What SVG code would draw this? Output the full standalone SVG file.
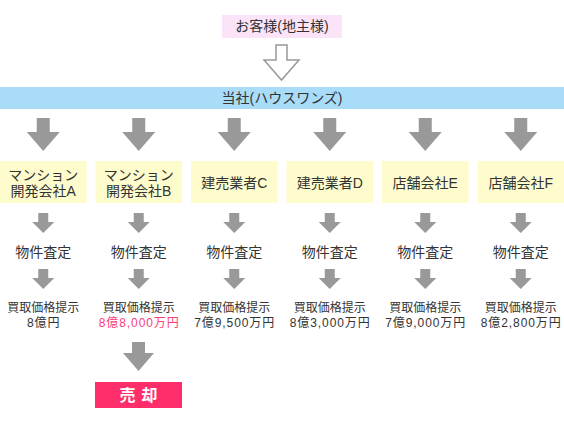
<svg xmlns="http://www.w3.org/2000/svg" width="564" height="423" viewBox="0 0 564 423">
<style>
.t{font-family:"Liberation Sans","Noto Sans CJK JP",sans-serif;fill:#333;text-anchor:middle}
.b{font-size:14px}
.s{font-size:12px}
.p{letter-spacing:0.9px}
.ar{fill:#999}
.box{fill:#fefccc}
</style>
<defs>
<path id="big" d="M-6.5,0 H6.5 V14 H16.5 L0,33 L-16.5,14 H-6.5 Z"/>
<path id="sm" d="M-5,0 H5 V9 H11 L0,20 L-11,9 H-5 Z"/>
</defs>
<rect width="564" height="423" fill="#fff"/>
<g id="customer">
<rect x="222" y="15" width="120" height="23" fill="#fce4f8"/>
<text class="t b" x="282" y="31">お客様(地主様)</text>
</g>
<g id="company">
<rect x="0" y="87" width="564" height="22" fill="#a8dcf9"/>
<text class="t b" x="282" y="103">当社(ハウスワンズ)</text>
</g>
<g id="nodeA">
<rect class="box" x="0" y="161" width="86.5" height="42"/>
<text class="t b" x="43.25" y="180">マンション</text>
<text class="t b" x="43.25" y="196">開発会社A</text>
</g>
<g id="nodeB">
<rect class="box" x="95.5" y="161" width="86.5" height="42"/>
<text class="t b" x="138.75" y="180">マンション</text>
<text class="t b" x="138.75" y="196">開発会社B</text>
</g>
<g id="nodeC">
<rect class="box" x="191" y="161" width="86.5" height="42"/>
<text class="t b" x="234.25" y="188">建売業者C</text>
</g>
<g id="nodeD">
<rect class="box" x="286.5" y="161" width="86.5" height="42"/>
<text class="t b" x="329.75" y="188">建売業者D</text>
</g>
<g id="nodeE">
<rect class="box" x="382" y="161" width="86.5" height="42"/>
<text class="t b" x="425.25" y="188">店舗会社E</text>
</g>
<g id="nodeF">
<rect class="box" x="477.5" y="161" width="86.5" height="42"/>
<text class="t b" x="520.75" y="188">店舗会社F</text>
</g>
<g id="appraisals">
<text class="t b" x="43.25" y="257">物件査定</text>
<text class="t b" x="138.75" y="257">物件査定</text>
<text class="t b" x="234.25" y="257">物件査定</text>
<text class="t b" x="329.75" y="257">物件査定</text>
<text class="t b" x="425.25" y="257">物件査定</text>
<text class="t b" x="520.75" y="257">物件査定</text>
</g>
<g id="offers">
<text class="t s" x="43.25" y="312">買取価格提示</text>
<text class="t s p" x="43.7" y="327">8億円</text>
<text class="t s" x="138.75" y="312">買取価格提示</text>
<text class="t s p" x="139.2" y="327" style="fill:#ff3d78">8億8,000万円</text>
<text class="t s" x="234.25" y="312">買取価格提示</text>
<text class="t s p" x="234.7" y="327">7億9,500万円</text>
<text class="t s" x="329.75" y="312">買取価格提示</text>
<text class="t s p" x="330.2" y="327">8億3,000万円</text>
<text class="t s" x="425.25" y="312">買取価格提示</text>
<text class="t s p" x="425.7" y="327">7億9,000万円</text>
<text class="t s" x="520.75" y="312">買取価格提示</text>
<text class="t s p" x="521.2" y="327">8億2,800万円</text>
</g>
<g id="sale">
<rect x="95" y="382" width="87" height="26" fill="#ff2d6a"/>
<text x="141.5" y="401" style="font-family:'Noto Sans CJK JP',sans-serif;font-size:16px;font-weight:bold;fill:#fff;text-anchor:middle;letter-spacing:6px">売却</text>
</g>
<g id="connectors">
<path d="M276,45 H287 V60 H299 L281.5,80 L264,60 H276 Z" fill="#fff" stroke="#999" stroke-width="1.5"/>
<use href="#big" class="ar" x="43.25" y="118"/>
<use href="#big" class="ar" x="138.75" y="118"/>
<use href="#big" class="ar" x="234.25" y="118"/>
<use href="#big" class="ar" x="329.75" y="118"/>
<use href="#big" class="ar" x="425.25" y="118"/>
<use href="#big" class="ar" x="520.75" y="118"/>
<use href="#sm" class="ar" x="43.25" y="213"/>
<use href="#sm" class="ar" x="138.75" y="213"/>
<use href="#sm" class="ar" x="234.25" y="213"/>
<use href="#sm" class="ar" x="329.75" y="213"/>
<use href="#sm" class="ar" x="425.25" y="213"/>
<use href="#sm" class="ar" x="520.75" y="213"/>
<use href="#sm" class="ar" x="43.25" y="269"/>
<use href="#sm" class="ar" x="138.75" y="269"/>
<use href="#sm" class="ar" x="234.25" y="269"/>
<use href="#sm" class="ar" x="329.75" y="269"/>
<use href="#sm" class="ar" x="425.25" y="269"/>
<use href="#sm" class="ar" x="520.75" y="269"/>
<path class="ar" d="M132,342 H145 V353 H154 L138.5,371 L123,353 H132 Z"/>
</g>
</svg>
